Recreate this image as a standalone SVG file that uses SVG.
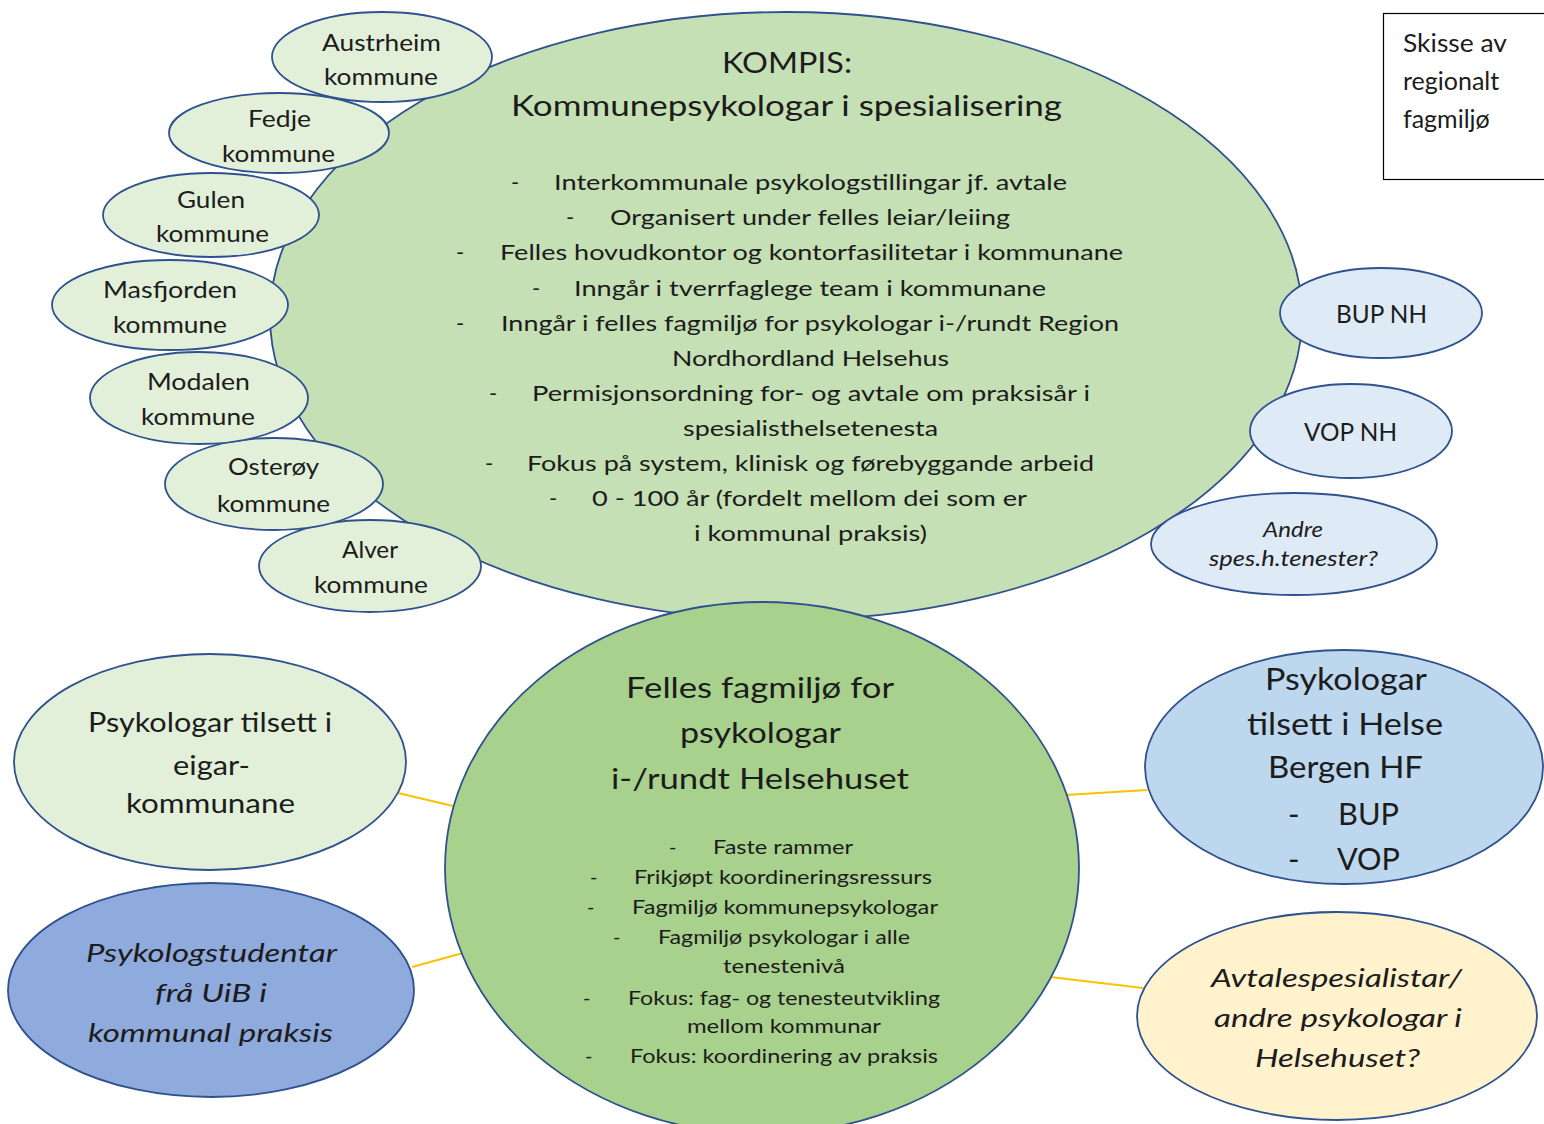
<svg xmlns="http://www.w3.org/2000/svg" width="1544" height="1124" viewBox="0 0 1544 1124">
<style>
.t{font-family:Lato,"Open Sans",sans-serif;fill:#1c1c1c}
.i{font-style:italic}
.node{stroke:#2F528F;stroke-width:1.8}
.big{fill:#C5E0B4}
.kom{fill:#E2F0D9}
.spes{fill:#DEEBF7}
.hub{fill:#A9D18E}
.stud{fill:#8FAADC}
.hbf{fill:#BDD7EE}
.avt{fill:#FFF2CC}
.conn{stroke:#FFC000;stroke-width:2.2;fill:none}
</style>
<rect width="1544" height="1124" fill="#fff"/>

<g id="connectors">
<line class="conn" x1="398" y1="793" x2="453" y2="806"/>
<line class="conn" x1="412" y1="967" x2="463" y2="953"/>
<line class="conn" x1="1066" y1="795" x2="1147" y2="790"/>
<line class="conn" x1="1050" y1="977" x2="1143" y2="988"/>
</g>

<g id="kompis">
<ellipse class="node big" cx="786" cy="316" rx="516" ry="304"/>
<text class="t" x="722" y="73" font-size="28" textLength="130" lengthAdjust="spacingAndGlyphs">KOMPIS:</text>
<text class="t" x="511" y="116" font-size="28" textLength="551" lengthAdjust="spacingAndGlyphs">Kommunepsykologar i spesialisering</text>
<g font-size="22">
<text class="t" x="511" y="190">-</text>
<text class="t" x="554" y="190" textLength="513" lengthAdjust="spacingAndGlyphs">Interkommunale  psykologstillingar  jf. avtale</text>
<text class="t" x="566" y="225">-</text>
<text class="t" x="610" y="225" textLength="400" lengthAdjust="spacingAndGlyphs">Organisert under felles leiar/leiing</text>
<text class="t" x="456" y="260">-</text>
<text class="t" x="500" y="260" textLength="623" lengthAdjust="spacingAndGlyphs">Felles hovudkontor  og kontorfasilitetar  i kommunane</text>
<text class="t" x="532" y="296">-</text>
<text class="t" x="574" y="296" textLength="472" lengthAdjust="spacingAndGlyphs">Inngår i tverrfaglege  team  i kommunane</text>
<text class="t" x="456" y="331">-</text>
<text class="t" x="501" y="331" textLength="618" lengthAdjust="spacingAndGlyphs">Inngår i felles fagmiljø for psykologar i-/rundt Region</text>
<text class="t" x="672" y="366" textLength="277" lengthAdjust="spacingAndGlyphs">Nordhordland  Helsehus</text>
<text class="t" x="489" y="401">-</text>
<text class="t" x="532" y="401" textLength="558" lengthAdjust="spacingAndGlyphs">Permisjonsordning  for- og avtale om praksisår i</text>
<text class="t" x="683" y="436" textLength="255" lengthAdjust="spacingAndGlyphs">spesialisthelsetenesta</text>
<text class="t" x="485" y="471">-</text>
<text class="t" x="527" y="471" textLength="567" lengthAdjust="spacingAndGlyphs">Fokus på system, klinisk og førebyggande arbeid</text>
<text class="t" x="549" y="506">-</text>
<text class="t" x="592" y="506" textLength="435" lengthAdjust="spacingAndGlyphs">0 - 100 år (fordelt mellom dei som er</text>
<text class="t" x="694" y="541" textLength="233" lengthAdjust="spacingAndGlyphs">i kommunal  praksis)</text>
</g>
</g>

<g id="alver">
<ellipse class="node kom" cx="370" cy="566" rx="111" ry="46"/>
<text class="t" x="342" y="558" font-size="24" textLength="56" lengthAdjust="spacingAndGlyphs">Alver</text>
<text class="t" x="314" y="593" font-size="24" textLength="114" lengthAdjust="spacingAndGlyphs">kommune</text>
</g>
<g id="osteroy">
<ellipse class="node kom" cx="274" cy="484" rx="109" ry="46"/>
<text class="t" x="228" y="475" font-size="24" textLength="91" lengthAdjust="spacingAndGlyphs">Osterøy</text>
<text class="t" x="217" y="512" font-size="24" textLength="113" lengthAdjust="spacingAndGlyphs">kommune</text>
</g>
<g id="modalen">
<ellipse class="node kom" cx="199" cy="398" rx="109" ry="46"/>
<text class="t" x="147" y="390" font-size="24" textLength="103" lengthAdjust="spacingAndGlyphs">Modalen</text>
<text class="t" x="141" y="425" font-size="24" textLength="114" lengthAdjust="spacingAndGlyphs">kommune</text>
</g>
<g id="masfjorden">
<ellipse class="node kom" cx="170" cy="305" rx="118" ry="45"/>
<text class="t" x="103" y="298" font-size="24" textLength="134" lengthAdjust="spacingAndGlyphs">Masfjorden</text>
<text class="t" x="113" y="333" font-size="24" textLength="114" lengthAdjust="spacingAndGlyphs">kommune</text>
</g>
<g id="gulen">
<ellipse class="node kom" cx="211" cy="215" rx="108" ry="42"/>
<text class="t" x="177" y="208" font-size="24" textLength="68" lengthAdjust="spacingAndGlyphs">Gulen</text>
<text class="t" x="156" y="242" font-size="24" textLength="113" lengthAdjust="spacingAndGlyphs">kommune</text>
</g>
<g id="fedje">
<ellipse class="node kom" cx="279" cy="133" rx="110" ry="40"/>
<text class="t" x="248" y="127" font-size="24" textLength="63" lengthAdjust="spacingAndGlyphs">Fedje</text>
<text class="t" x="222" y="162" font-size="24" textLength="113" lengthAdjust="spacingAndGlyphs">kommune</text>
</g>
<g id="austrheim">
<ellipse class="node kom" cx="382" cy="57" rx="110" ry="45"/>
<text class="t" x="322" y="51" font-size="24" textLength="119" lengthAdjust="spacingAndGlyphs">Austrheim</text>
<text class="t" x="324" y="85" font-size="24" textLength="114" lengthAdjust="spacingAndGlyphs">kommune</text>
</g>

<g id="bup-nh">
<ellipse class="node spes" cx="1381" cy="313" rx="101" ry="45"/>
<text class="t" x="1336" y="323" font-size="25" textLength="91" lengthAdjust="spacingAndGlyphs">BUP NH</text>
</g>
<g id="vop-nh">
<ellipse class="node spes" cx="1351" cy="431" rx="101" ry="47"/>
<text class="t" x="1304" y="441" font-size="25" textLength="93" lengthAdjust="spacingAndGlyphs">VOP NH</text>
</g>
<g id="andre-spes">
<ellipse class="node spes" cx="1294" cy="544" rx="143" ry="51"/>
<text class="t i" x="1263" y="537" font-size="21" textLength="60" lengthAdjust="spacingAndGlyphs">Andre</text>
<text class="t i" x="1209" y="566" font-size="21" textLength="169" lengthAdjust="spacingAndGlyphs">spes.h.tenester?</text>
</g>

<g id="skisse">
<rect x="1383.5" y="13.5" width="170" height="166" fill="#fff" stroke="#000" stroke-width="1.2"/>
<text class="t" x="1403" y="52" font-size="25" textLength="104" lengthAdjust="spacingAndGlyphs">Skisse av</text>
<text class="t" x="1403" y="90" font-size="25">regionalt</text>
<text class="t" x="1403" y="128" font-size="25">fagmiljø</text>
</g>

<g id="felles-fagmiljo">
<ellipse class="node hub" cx="762" cy="868" rx="317" ry="266"/>
<text class="t" x="626" y="698" font-size="29" textLength="268" lengthAdjust="spacingAndGlyphs">Felles fagmiljø for</text>
<text class="t" x="680" y="743" font-size="29" textLength="161" lengthAdjust="spacingAndGlyphs">psykologar</text>
<text class="t" x="611" y="789" font-size="29" textLength="298" lengthAdjust="spacingAndGlyphs">i-/rundt Helsehuset</text>
<g font-size="20">
<text class="t" x="669" y="854">-</text>
<text class="t" x="713" y="854" textLength="140" lengthAdjust="spacingAndGlyphs">Faste rammer</text>
<text class="t" x="590" y="884">-</text>
<text class="t" x="634" y="884" textLength="298" lengthAdjust="spacingAndGlyphs">Frikjøpt koordineringsressurs</text>
<text class="t" x="587" y="914">-</text>
<text class="t" x="632" y="914" textLength="306" lengthAdjust="spacingAndGlyphs">Fagmiljø kommunepsykologar</text>
<text class="t" x="613" y="944">-</text>
<text class="t" x="658" y="944" textLength="252" lengthAdjust="spacingAndGlyphs">Fagmiljø psykologar i alle</text>
<text class="t" x="723" y="973" textLength="122" lengthAdjust="spacingAndGlyphs">tenestenivå</text>
<text class="t" x="583" y="1005">-</text>
<text class="t" x="628" y="1005" textLength="312" lengthAdjust="spacingAndGlyphs">Fokus: fag- og tenesteutvikling</text>
<text class="t" x="687" y="1033" textLength="194" lengthAdjust="spacingAndGlyphs">mellom kommunar</text>
<text class="t" x="585" y="1063">-</text>
<text class="t" x="630" y="1063" textLength="308" lengthAdjust="spacingAndGlyphs">Fokus: koordinering av praksis</text>
</g>
</g>

<g id="eigarkommunane">
<ellipse class="node kom" cx="210" cy="762" rx="196" ry="108"/>
<text class="t" x="88" y="732" font-size="27" textLength="244" lengthAdjust="spacingAndGlyphs">Psykologar tilsett i</text>
<text class="t" x="173" y="775" font-size="27" textLength="77" lengthAdjust="spacingAndGlyphs">eigar-</text>
<text class="t" x="126" y="813" font-size="27" textLength="169" lengthAdjust="spacingAndGlyphs">kommunane</text>
</g>
<g id="studentar">
<ellipse class="node stud" cx="211" cy="990" rx="203" ry="107"/>
<text class="t i" x="86" y="962" font-size="26" textLength="251" lengthAdjust="spacingAndGlyphs">Psykologstudentar</text>
<text class="t i" x="155" y="1002" font-size="26" textLength="112" lengthAdjust="spacingAndGlyphs">frå UiB i</text>
<text class="t i" x="88" y="1042" font-size="26" textLength="245" lengthAdjust="spacingAndGlyphs">kommunal praksis</text>
</g>
<g id="helse-bergen">
<ellipse class="node hbf" cx="1344" cy="767" rx="199" ry="117"/>
<text class="t" x="1265" y="690" font-size="31" textLength="162" lengthAdjust="spacingAndGlyphs">Psykologar</text>
<text class="t" x="1247" y="735" font-size="31" textLength="196" lengthAdjust="spacingAndGlyphs">tilsett i Helse</text>
<text class="t" x="1268" y="778" font-size="31" textLength="155" lengthAdjust="spacingAndGlyphs">Bergen HF</text>
<text class="t" x="1288" y="825" font-size="31">-</text>
<text class="t" x="1338" y="825" font-size="31" textLength="61" lengthAdjust="spacingAndGlyphs">BUP</text>
<text class="t" x="1288" y="870" font-size="31">-</text>
<text class="t" x="1337" y="870" font-size="31" textLength="63" lengthAdjust="spacingAndGlyphs">VOP</text>
</g>
<g id="avtalespesialistar">
<ellipse class="node avt" cx="1337" cy="1016" rx="200" ry="104"/>
<text class="t i" x="1211" y="987" font-size="26" textLength="251" lengthAdjust="spacingAndGlyphs">Avtalespesialistar/</text>
<text class="t i" x="1214" y="1027" font-size="26" textLength="248" lengthAdjust="spacingAndGlyphs">andre psykologar i</text>
<text class="t i" x="1255" y="1067" font-size="26" textLength="165" lengthAdjust="spacingAndGlyphs">Helsehuset?</text>
</g>
</svg>
